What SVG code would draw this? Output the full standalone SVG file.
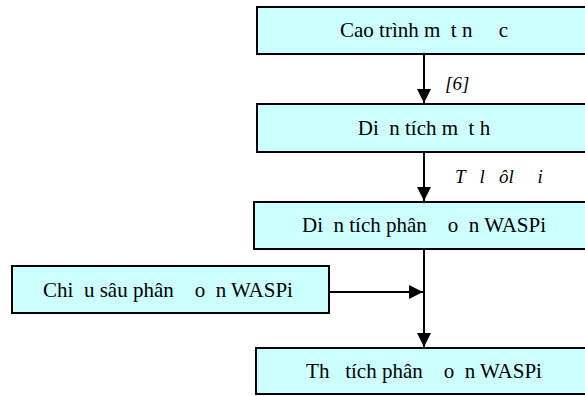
<svg xmlns="http://www.w3.org/2000/svg" width="585" height="396" viewBox="0 0 585 396">
<style>
.box{fill:#CCFFFF;stroke:#000;stroke-width:2}
.t{font-family:"Liberation Serif","Times New Roman",Times,serif;font-size:21px;fill:#000;text-anchor:middle;white-space:pre}
.lbl{font-family:"Liberation Serif","Times New Roman",Times,serif;font-size:19px;font-style:italic;fill:#000;white-space:pre}
.ln{stroke:#000;stroke-width:2;fill:none}
</style>
<defs>
<marker id="ah" markerWidth="14" markerHeight="14" refX="14" refY="7" orient="auto" markerUnits="userSpaceOnUse">
<path d="M0,0 L14,7 L0,14 Z" fill="#000"/>
</marker>
</defs>
<g id="n1"><rect class="box" x="257" y="7" width="340" height="47"/><text class="t" x="424" y="37" xml:space="preserve">Cao trình m  t n     c</text></g>
<g id="n2"><rect class="box" x="257" y="104" width="340" height="48"/><text class="t" x="424" y="135" xml:space="preserve">Di  n tích m  t h</text></g>
<g id="n3"><rect class="box" x="254" y="202" width="340" height="47"/><text class="t" x="424" y="232" xml:space="preserve">Di  n tích phân    o  n WASPi</text></g>
<g id="n4"><rect class="box" x="12" y="266" width="317" height="47"/><text class="t" x="168" y="297" xml:space="preserve">Chi  u sâu phân    o  n WASPi</text></g>
<g id="n5"><rect class="box" x="256" y="348" width="340" height="46"/><text class="t" x="424" y="378" xml:space="preserve">Th   tích phân    o  n WASPi</text></g>
<g id="connectors">
<line class="ln" x1="424" y1="54" x2="424" y2="103" marker-end="url(#ah)"/>
<line class="ln" x1="424" y1="152" x2="424" y2="201" marker-end="url(#ah)"/>
<line class="ln" x1="424" y1="249" x2="424" y2="347" marker-end="url(#ah)"/>
<line class="ln" x1="329" y1="292" x2="423" y2="292" marker-end="url(#ah)"/>
<text class="lbl" x="445" y="90">[6]</text>
<text class="lbl" x="455" y="183" xml:space="preserve">T   l   ôl     i</text>
</g>
</svg>
